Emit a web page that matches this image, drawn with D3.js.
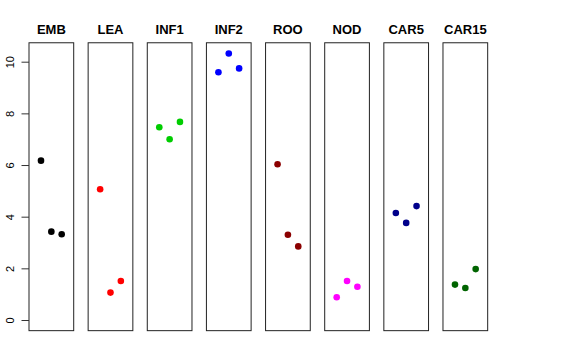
<!DOCTYPE html>
<html><head><meta charset="utf-8">
<script src="https://cdn.jsdelivr.net/npm/d3@7"></script>
<style>body{margin:0;background:#fff}svg{display:block}</style>
</head><body>
<svg id="c" width="576" height="360"></svg>
<script>
const categories = ["EMB","LEA","INF1","INF2","ROO","NOD","CAR5","CAR15"];
const colors = ["#000000","#FF0000","#00CD00","#0000FF","#8B0000","#FF00FF","#00008B","#006400"];
const values = [
  [6.17, 3.42, 3.32],
  [5.06, 1.06, 1.51],
  [7.46, 7.00, 7.67],
  [9.59, 10.32, 9.74],
  [6.03, 3.30, 2.85],
  [0.88, 1.51, 1.29],
  [4.14, 3.76, 4.41],
  [1.37, 1.24, 1.97]
];
const yTicks = [0, 2, 4, 6, 8, 10];

const svg = d3.select("#c");
const yMax = d3.max(values.flat());
const pad = yMax * 0.04;
const y = d3.scaleLinear().domain([0, 10]).range([320, 61.7]);
const yTop = y(yMax + pad), yBot = y(0 - pad);

const panelX = d3.scaleBand().domain(categories).range([29, 29 + 59.14 * 8]).paddingInner(0).paddingOuter(0);
const panelW = 44.7;

categories.forEach((cat, i) => {
  const x0 = panelX(cat);
  const x = d3.scaleLinear().domain([-0.16, 4.16]).range([x0, x0 + panelW]);
  const g = svg.append("g");
  g.append("rect").attr("x", x0).attr("y", yTop).attr("width", panelW).attr("height", yBot - yTop)
    .attr("fill", "none").attr("stroke", "#222").attr("stroke-width", 1);
  g.append("text").attr("x", x0 + panelW / 2).attr("y", 33.5).attr("text-anchor", "middle")
    .attr("font-family", "Liberation Sans, Arial, sans-serif").attr("font-weight", "bold").attr("font-size", 13)
    .text(cat);
  g.selectAll("circle").data(values[i]).join("circle")
    .attr("cx", (d, j) => x(j + 1)).attr("cy", d => y(d)).attr("r", 3.3).attr("fill", colors[i]);
});

const axis = d3.axisLeft(y).tickValues(yTicks).tickSize(7.5).tickFormat(d3.format("d"));
const ag = svg.append("g").attr("transform", "translate(29,0)").call(axis);
ag.select(".domain").remove();
ag.selectAll(".tick line").attr("stroke", "#333");
ag.selectAll(".tick text").attr("font-family", "Liberation Sans, Arial, sans-serif").attr("font-size", 11)
  .attr("fill", "#000").attr("x", null).attr("dy", null)
  .attr("text-anchor", "middle")
  .attr("transform", "translate(-19,0) rotate(-90)")
  .attr("dy", "0.35em");
</script>
</body></html>
